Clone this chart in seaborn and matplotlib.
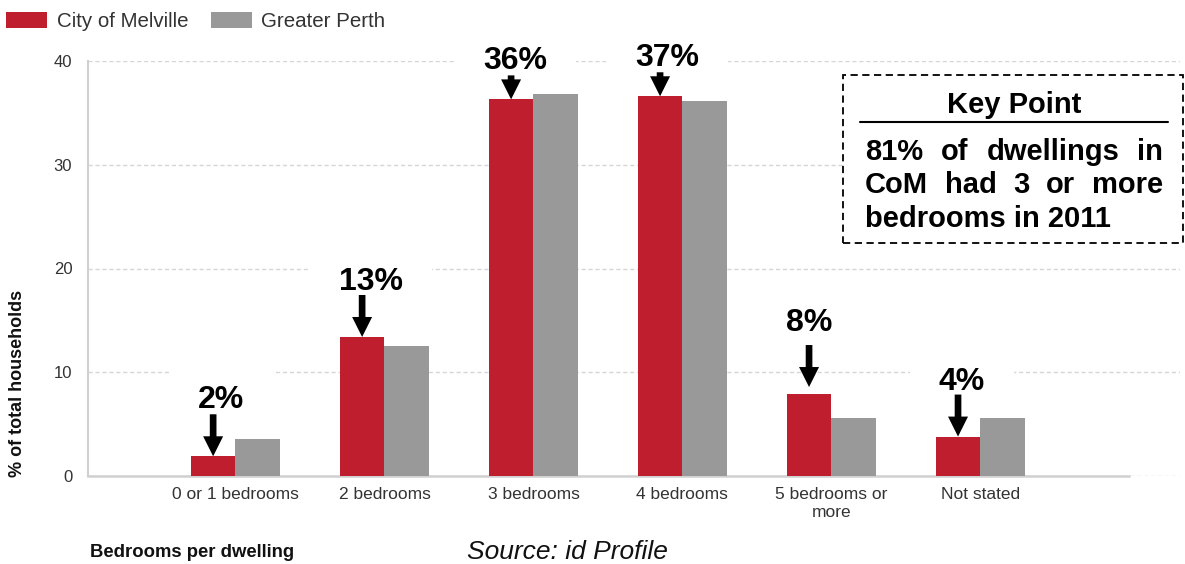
import matplotlib
matplotlib.use("Agg")
import matplotlib.pyplot as plt
from matplotlib.patches import Patch, Rectangle
from matplotlib.lines import Line2D
import pandas as pd
import seaborn as sns

# ---- data -------------------------------------------------------------
categories = ["0 or 1 bedrooms", "2 bedrooms", "3 bedrooms", "4 bedrooms",
              "5 bedrooms or\nmore", "Not stated"]
series = ["City of Melville", "Greater Perth"]
melville = [1.9, 13.4, 36.3, 36.6, 7.9, 3.8]
perth = [3.6, 12.5, 36.8, 36.1, 5.6, 5.6]
y_ticks = [0, 10, 20, 30, 40]

key_title = "Key Point"
key_lines = ["81% of dwellings in", "CoM had 3 or more", "bedrooms in 2011"]

# ---- style ------------------------------------------------------------
RED = "#BE1E2D"
GREY = "#999999"
AXIS_GREY = "#d0d0d0"
TEXT_GREY = "#333333"

W, H = 1185, 564
sns.set_style("white")
plt.rcParams["font.family"] = ["Liberation Sans", "DejaVu Sans"]
plt.rcParams["text.color"] = "black"

df = pd.DataFrame({
    "category": categories * 2,
    "area": [series[0]] * len(categories) + [series[1]] * len(categories),
    "value": melville + perth,
})

fig = plt.figure(figsize=(W / 100, H / 100), dpi=100)
ax = fig.add_axes([88 / W, 1 - 476 / H, (1180 - 88) / W, (476 - 61) / H])

sns.barplot(data=df, x="category", y="value", hue="area", order=categories,
            hue_order=series, palette=[RED, GREY], width=0.6, gap=0,
            saturation=1, linewidth=0, legend=False, ax=ax)
for p in ax.patches:
    p.set_zorder(3)

ax.set_xlim(-0.99, 6.34)
ax.set_ylim(0, 40)
ax.set_yticks(y_ticks)
ax.set_xticks(range(len(categories) + 1))
ax.set_xticklabels(categories + [""])
ax.set_xlabel("")
ax.set_ylabel("")

ax.set_axisbelow(True)
ax.yaxis.grid(True, color="#d6d6d6", linestyle=(0, (3, 2)), linewidth=1)
ax.xaxis.grid(False)
for side in ("top", "right"):
    ax.spines[side].set_visible(False)
ax.spines["left"].set_color(AXIS_GREY)
ax.spines["left"].set_linewidth(1.5)
ax.spines["bottom"].set_color(AXIS_GREY)
ax.spines["bottom"].set_linewidth(1.8)
ax.spines["bottom"].set_bounds(-0.99, 6)

ax.tick_params(axis="y", length=10.8, width=1, color=AXIS_GREY, pad=0.5,
               labelsize=12, labelcolor=TEXT_GREY)
ax.tick_params(axis="x", length=5, width=1, color=AXIS_GREY, pad=3,
               labelsize=12.5, labelcolor=TEXT_GREY)

# ---- value call-outs with arrows -------------------------------------
PX = 0.72  # points per pixel at 100 dpi
arrow_len_px = [42, 42, 24, 24, 42, 42]
arrow_gap_px = [0, 0, 0, 0, 7, 0]
label_gap_px = [6, 5, 6, 6, 14, 5]
label_dx_px = [8, 9, 4, 7, 0, 4]

for i, (bar, v) in enumerate(zip(ax.containers[0], melville)):
    cx = bar.get_x() + bar.get_width() / 2
    top = bar.get_height()
    rise = (arrow_len_px[i] + arrow_gap_px[i]) * PX
    ax.annotate("", xy=(cx, top), xycoords="data",
                xytext=(0, rise), textcoords="offset points",
                arrowprops=dict(arrowstyle="simple,head_length=0.72,head_width=0.72,tail_width=0.24",
                                mutation_scale=20, fc="black", ec="none",
                                shrinkA=0, shrinkB=arrow_gap_px[i] * PX),
                zorder=5)
    ax.annotate(f"{v:.0f}%", xy=(cx, top), xycoords="data",
                xytext=(label_dx_px[i] * PX, rise + label_gap_px[i] * PX),
                textcoords="offset points", ha="center", va="baseline",
                fontsize=23, fontweight="bold", color="black",
                bbox=dict(boxstyle="square,pad=0.9", fc="white", ec="none"),
                zorder=2.5)

# ---- legend -----------------------------------------------------------
handles = [Patch(facecolor=RED, edgecolor="none"),
           Patch(facecolor=GREY, edgecolor="none")]
fig.legend(handles, series, loc="upper left", bbox_to_anchor=(0.0, 0.99),
           frameon=False, ncol=2, fontsize=14.8, handlelength=2.0,
           handleheight=0.85, handletextpad=0.45, columnspacing=1.1,
           borderpad=0.3, borderaxespad=0.0, labelcolor=TEXT_GREY)

# ---- axis titles and source -------------------------------------------
fig.text(18 / W, 1 - 383 / H, "% of total households", rotation=90,
         ha="center", va="center", fontsize=13, fontweight="bold", color="#111111")
fig.text(90 / W, 1 - 557 / H, "Bedrooms per dwelling", ha="left",
         va="baseline", fontsize=13.3, fontweight="bold", color="#111111")
fig.text(567 / W, 1 - 559 / H, "Source: id Profile", ha="center",
         va="baseline", fontsize=19, fontstyle="italic", color="#111111")

# ---- key point box ----------------------------------------------------
box = Rectangle((843 / W, 1 - 243 / H), (1183 - 843) / W, (243 - 75) / H,
                transform=fig.transFigure, facecolor="white", edgecolor="black",
                linewidth=1.3, linestyle=(0, (4, 2.5)), zorder=6)
fig.add_artist(box)
fig.text(1014 / W, 1 - 113 / H, key_title, ha="center", va="baseline",
         fontsize=21, fontweight="bold", color="black", zorder=7)
fig.add_artist(Line2D([860 / W, 1168 / W], [1 - 122 / H, 1 - 122 / H],
                      transform=fig.transFigure, color="black", linewidth=1.5,
                      zorder=7))

renderer = fig.canvas.get_renderer()


def place_line(text, left_px, right_px, base_px, justify):
    words = text.split(" ")
    if not justify:
        fig.text(left_px / W, 1 - base_px / H, text, ha="left", va="baseline",
                 fontsize=21, fontweight="bold", color="black", zorder=7)
        return
    items = [fig.text(0, 0, w, ha="left", va="baseline", fontsize=21,
                      fontweight="bold", color="black", zorder=7) for w in words]
    widths = [t.get_window_extent(renderer).width for t in items]
    space = (right_px - left_px - sum(widths)) / (len(words) - 1)
    x = left_px
    for t, w in zip(items, widths):
        t.set_position((x / W, 1 - base_px / H))
        x += w + space


baselines = [160, 193, 227]
for j, (line, base) in enumerate(zip(key_lines, baselines)):
    place_line(line, 865, 1163, base, justify=(j < len(key_lines) - 1))

fig.savefig("out.png", dpi=100)
